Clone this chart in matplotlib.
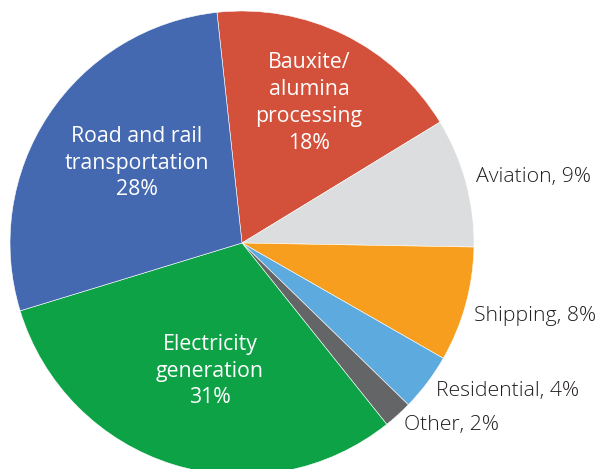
import matplotlib
matplotlib.use("Agg")
import matplotlib.pyplot as plt

# shares of emissions, clockwise from the top
sectors = ["Bauxite/\nalumina\nprocessing", "Aviation", "Shipping", "Residential",
           "Other", "Electricity\ngeneration", "Road and rail\ntransportation"]
shares = [18, 9, 8, 4, 2, 31, 28]
colors = ["#D3503A", "#DCDDDF", "#F79E1E", "#5DAADF", "#636567", "#0EA246", "#4469B1"]
inside = [True, False, False, False, False, True, True]

plt.rcParams['font.family'] = ['Open Sans', 'DejaVu Sans']

fig = plt.figure(figsize=(6.03, 4.69), dpi=100)
ax = fig.add_axes([0, 0, 1, 1])

# pie drawn in pixel units: centre (242, 226) with y measured up
wedges, _ = ax.pie(shares, colors=colors, startangle=96.2, counterclock=False,
                   center=(242, 226), radius=232, frame=True,
                   wedgeprops=dict(edgecolor="white", linewidth=0.4))
ax.set_xlim(0, 603)
ax.set_ylim(0, 469)
ax.set_aspect("equal")
ax.axis("off")

# label spots (pixels from top left)
in_pos = {0: (309, 103), 5: (210, 371), 6: (137, 163)}
out_pos = {1: (476, 177), 2: (474, 316), 3: (436, 391), 4: (404, 425)}

for i, name in enumerate(sectors):
    if inside[i]:
        x, y = in_pos[i]
        ax.text(x, 469 - y, f"{name}\n{shares[i]}%", color="white", fontsize=15.3,
                ha="center", va="center", linespacing=1.36)
    else:
        x, y = out_pos[i]
        ax.text(x, 469 - y, f"{name}, {shares[i]}%", color="#231F20", fontsize=15.3,
                ha="left", va="center", fontweight="light")

fig.savefig("out.png", dpi=100)
